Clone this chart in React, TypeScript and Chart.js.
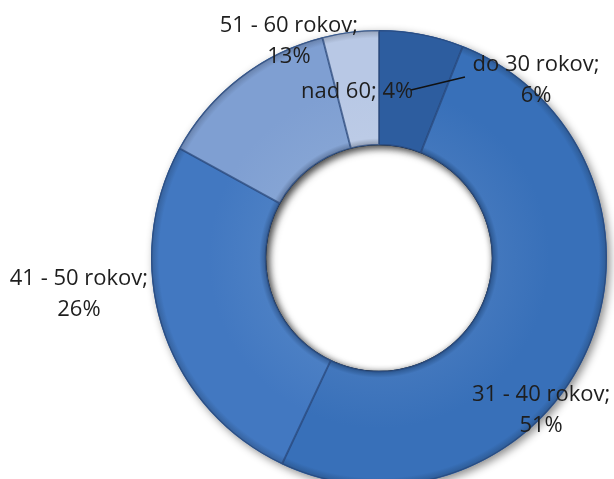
import React, { useEffect, useRef } from "react";
import { Chart, registerables } from "chart.js";

Chart.register(...registerables);

const categories = ["do 30 rokov", "31 - 40 rokov", "41 - 50 rokov", "51 - 60 rokov", "nad 60"];
const values = [6, 51, 26, 13, 4];
const labelLines = [
  ["do 30 rokov;", "6%"],
  ["31 - 40 rokov;", "51%"],
  ["41 - 50 rokov;", "26%"],
  ["51 - 60 rokov;", "13%"],
  ["nad 60; 4%"],
];
const colors = ["#2D5D9F", "#3870B9", "#4278C1", "#7F9FD2", "#B8C8E5"];
// label anchor relative to center, in units of outer radius
const labelAnchors = [
  [0.689, -0.781],
  [0.711, 0.667],
  [-1.316, 0.158],
  [-0.395, -0.952],
  [-0.096, -0.728],
];

function shade(hex: string, f: number) {
  const n = parseInt(hex.slice(1), 16);
  let r = (n >> 16) & 255, g = (n >> 8) & 255, b = n & 255;
  if (f < 0) { r *= 1 + f; g *= 1 + f; b *= 1 + f; }
  else { r += (255 - r) * f; g += (255 - g) * f; b += (255 - b) * f; }
  return `rgb(${Math.round(r)},${Math.round(g)},${Math.round(b)})`;
}

const labelPlugin = {
  id: "sliceLabels",
  beforeDatasetsDraw(chart: any) {
    const ctx = chart.ctx;
    const arc = chart.getDatasetMeta(0).data[0];
    if (!arc) return;
    const { x, y, outerRadius, innerRadius } = arc.getProps(["x", "y", "outerRadius", "innerRadius"], true);
    ctx.save();
    ctx.beginPath();
    ctx.arc(x, y, outerRadius, 0, Math.PI * 2);
    ctx.arc(x, y, innerRadius, 0, Math.PI * 2, true);
    ctx.shadowColor = "rgba(0,0,0,0.45)";
    ctx.shadowBlur = 8;
    ctx.shadowOffsetX = 3;
    ctx.shadowOffsetY = 3;
    ctx.fillStyle = "#3870B9";
    ctx.fill("evenodd");
    ctx.restore();
  },
  afterDatasetsDraw(chart: any) {
    const ctx = chart.ctx;
    const meta = chart.getDatasetMeta(0);
    const first = meta.data[0];
    if (!first) return;
    const { x, y, outerRadius, innerRadius } = first.getProps(["x", "y", "outerRadius", "innerRadius"], true);
    ctx.save();
    ctx.beginPath();
    ctx.arc(x, y, innerRadius, 0, Math.PI * 2);
    ctx.clip();
    ctx.beginPath();
    ctx.arc(x, y, innerRadius + 20, 0, Math.PI * 2);
    ctx.arc(x, y, innerRadius, 0, Math.PI * 2, true);
    ctx.shadowColor = "rgba(0,0,0,0.55)";
    ctx.shadowBlur = 7;
    ctx.shadowOffsetX = 2;
    ctx.shadowOffsetY = 2;
    ctx.fillStyle = "#000";
    ctx.fill("evenodd");
    ctx.restore();

    const a0 = meta.data[0].getProps(["startAngle", "endAngle"], true);
    const mid = (a0.startAngle + a0.endAngle) / 2;
    const px = x + Math.cos(mid) * outerRadius * 0.75;
    const py = y + Math.sin(mid) * outerRadius * 0.75;
    ctx.save();
    ctx.strokeStyle = "#111";
    ctx.lineWidth = 1.4;
    ctx.beginPath();
    ctx.moveTo(x + 0.377 * outerRadius, y - 0.794 * outerRadius);
    ctx.lineTo(px, py);
    ctx.stroke();

    ctx.fillStyle = "#1e1e1e";
    ctx.font = "22px 'Open Sans', sans-serif";
    ctx.textAlign = "center";
    ctx.textBaseline = "middle";
    const lh = 31;
    labelLines.forEach((lines, i) => {
      const cx = x + labelAnchors[i][0] * outerRadius;
      const cy = y + labelAnchors[i][1] * outerRadius;
      const top = cy - ((lines.length - 1) * lh) / 2;
      lines.forEach((t, j) => ctx.fillText(t, cx, top + j * lh));
    });
    ctx.restore();
  },
};

export default function App() {
  const ref = useRef<HTMLCanvasElement | null>(null);
  useEffect(() => {
    if (!ref.current) return;
    const chart = new Chart(ref.current, {
      type: "doughnut",
      data: {
        labels: categories,
        datasets: [
          {
            data: values,
            backgroundColor: (c: any) => {
              const i = c.dataIndex;
              const el = c.chart.getDatasetMeta(0).data[0];
              if (!el || !el.outerRadius) return colors[i];
              const { x, y, outerRadius, innerRadius } = el;
              const g = c.chart.ctx.createRadialGradient(x, y, innerRadius, x, y, outerRadius);
              g.addColorStop(0, shade(colors[i], -0.25));
              g.addColorStop(0.06, shade(colors[i], 0.05));
              g.addColorStop(0.5, colors[i]);
              g.addColorStop(0.93, colors[i]);
              g.addColorStop(1, shade(colors[i], -0.2));
              return g;
            },
            borderColor: "rgba(40,70,120,0.7)",
            borderWidth: 1,
            borderAlign: "inner",
          } as any,
        ],
      },
      options: {
        animation: false,
        responsive: false,
        cutout: "49.5%",
        layout: { padding: { top: 30, bottom: 14, left: 151, right: 7 } },
        plugins: { legend: { display: false }, tooltip: { enabled: false } },
      },
      plugins: [labelPlugin],
    });
    return () => chart.destroy();
  }, []);
  return (
    <div style={{ position: "fixed", left: 0, top: 0, width: 614, height: 479, overflow: "hidden", background: "#fff" }}>
      <canvas ref={ref} width={614} height={500} style={{ display: "block", width: 614, height: 500 }} />
    </div>
  );
}
